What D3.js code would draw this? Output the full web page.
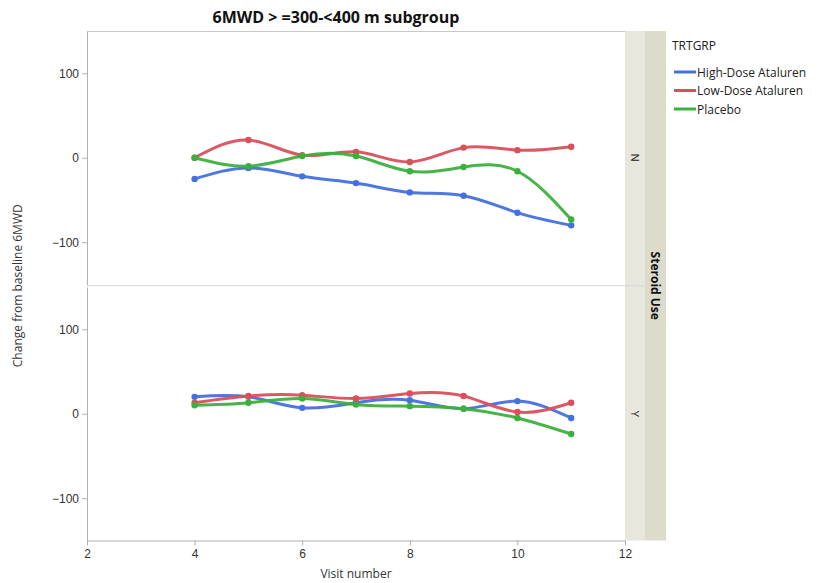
<!DOCTYPE html>
<html>
<head>
<meta charset="utf-8">
<script src="https://cdn.jsdelivr.net/npm/d3@7"></script>
<style>
  html, body { margin: 0; padding: 0; background: #fff; }
  svg { display: block; font-family: "Open Sans", "Noto Sans", "DejaVu Sans", sans-serif; }
</style>
</head>
<body>
<svg id="chart" width="820" height="583"></svg>
<script>
// Visits and mean change from baseline 6MWD per treatment group, by steroid use
const visits = [4, 5, 6, 7, 8, 9, 10, 11];
const groups = ["High-Dose Ataluren", "Low-Dose Ataluren", "Placebo"];
const groupColors = ["#4470e0", "#d9505c", "#3cb03c"];
const steroidLevels = ["N", "Y"];

const highDoseN = [-25, -12, -22, -30, -41, -45, -65, -80];
const lowDoseN  = [0, 21, 3, 7, -5, 12, 9, 13];
const placeboN  = [0, -10, 2, 2, -16, -11, -16, -73];

const highDoseY = [20, 20, 7, 13, 16, 6, 15, -5];
const lowDoseY  = [13, 21, 22, 18, 24, 21, 2, 13];
const placeboY  = [10, 13, 18, 11, 9, 6, -5, -24];

const yTicks = [-100, 0, 100];
const xTicks = [2, 4, 6, 8, 10, 12];

const panelSeries = {
  N: [highDoseN, lowDoseN, placeboN],
  Y: [highDoseY, lowDoseY, placeboY]
};

const svg = d3.select("#chart");
const plotLeft = 87, plotRight = 625, plotTop = 31;
const panelH = 253.5, panelGap = 2.5;
const plotBottom = plotTop + 2 * panelH + panelGap;
const stripInner = 20, stripOuter = 21;

const x = d3.scaleLinear().domain([2, 12]).range([plotLeft, plotRight]);

// Title
svg.append("text")
  .attr("x", 336).attr("y", 23)
  .attr("text-anchor", "middle")
  .attr("font-size", 16).attr("font-weight", "bold").attr("fill", "#111")
  .text("6MWD > =300-<400 m subgroup");

// Strip backgrounds
svg.append("rect")
  .attr("x", plotRight).attr("y", plotTop)
  .attr("width", stripInner).attr("height", plotBottom - plotTop)
  .attr("fill", "#e7e7de");
svg.append("rect")
  .attr("x", plotRight + stripInner).attr("y", plotTop)
  .attr("width", stripOuter).attr("height", plotBottom - plotTop)
  .attr("fill", "#dcdbcc");

// Outer strip label
svg.append("text")
  .attr("transform", `translate(${plotRight + stripInner + stripOuter / 2 - 5},${(plotTop + plotBottom) / 2}) rotate(90)`)
  .attr("text-anchor", "middle")
  .attr("font-size", 12).attr("font-weight", "bold").attr("fill", "#111")
  .text("Steroid Use");

const line = d3.line().curve(d3.curveNatural);

steroidLevels.forEach((level, i) => {
  const py0 = plotTop + i * (panelH + panelGap);
  const y = d3.scaleLinear().domain([-150, 150]).range([py0 + panelH, py0]);

  // Y axis
  const ya = svg.append("g")
    .attr("transform", `translate(${plotLeft},0)`)
    .call(d3.axisLeft(y).tickValues(yTicks).tickSize(5).tickPadding(3).tickSizeOuter(0));
  ya.select(".domain").attr("stroke", "#b0b0b0");
  ya.selectAll(".tick line").attr("stroke", "#b0b0b0");
  ya.selectAll(".tick text").attr("font-size", 12).attr("fill", "#333")
    .attr("font-family", "inherit");

  // Inner strip label
  svg.append("text")
    .attr("transform", `translate(${plotRight + stripInner / 2 - 4},${y(0)}) rotate(90)`)
    .attr("text-anchor", "middle")
    .attr("font-size", 11).attr("fill", "#222")
    .text(level);

  // Series
  panelSeries[level].forEach((vals, g) => {
    const pts = visits.map((v, k) => [x(v), y(vals[k])]);
    svg.append("path")
      .attr("d", line(pts))
      .attr("fill", "none")
      .attr("stroke", groupColors[g])
      .attr("stroke-width", 3)
      .attr("stroke-linecap", "round")
      .attr("opacity", 0.95);
    svg.append("g").selectAll("circle")
      .data(pts).join("circle")
      .attr("cx", d => d[0]).attr("cy", d => d[1])
      .attr("r", 3.2)
      .attr("fill", groupColors[g]);
  });
});

// Frame lines: top border and panel separator
svg.append("line")
  .attr("x1", plotLeft).attr("x2", plotRight).attr("y1", plotTop + 0.5).attr("y2", plotTop + 0.5)
  .attr("stroke", "#c8c8c8");
svg.append("line")
  .attr("x1", plotLeft).attr("x2", plotRight + stripInner)
  .attr("y1", plotTop + panelH + panelGap / 2).attr("y2", plotTop + panelH + panelGap / 2)
  .attr("stroke", "#d6d6d6");

// X axis
const xa = svg.append("g")
  .attr("transform", `translate(0,${plotBottom})`)
  .call(d3.axisBottom(x).tickValues(xTicks).tickSize(5).tickPadding(4).tickSizeOuter(0));
xa.select(".domain").attr("stroke", "#b0b0b0");
xa.selectAll(".tick line").attr("stroke", "#b0b0b0");
xa.selectAll(".tick text").attr("font-size", 12).attr("fill", "#333")
  .attr("font-family", "inherit");

svg.append("text")
  .attr("x", (plotLeft + plotRight) / 2).attr("y", 578)
  .attr("text-anchor", "middle")
  .attr("font-size", 12).attr("fill", "#333")
  .text("Visit number");

svg.append("text")
  .attr("transform", `translate(22,${(plotTop + plotBottom) / 2}) rotate(-90)`)
  .attr("text-anchor", "middle")
  .attr("font-size", 12).attr("fill", "#333")
  .text("Change from baseline 6MWD");

// Legend
const lg = svg.append("g").attr("transform", "translate(672,0)");
lg.append("text").attr("x", 0).attr("y", 50)
  .attr("font-size", 12).attr("fill", "#222").text("TRTGRP");
groups.forEach((name, g) => {
  const ly = 72 + g * 18.5;
  lg.append("line")
    .attr("x1", 2).attr("x2", 24).attr("y1", ly).attr("y2", ly)
    .attr("stroke", groupColors[g]).attr("stroke-width", 3);
  lg.append("text").attr("x", 25).attr("y", ly + 4.5)
    .attr("font-size", 12).attr("fill", "#222").text(name);
});
</script>
</body>
</html>
